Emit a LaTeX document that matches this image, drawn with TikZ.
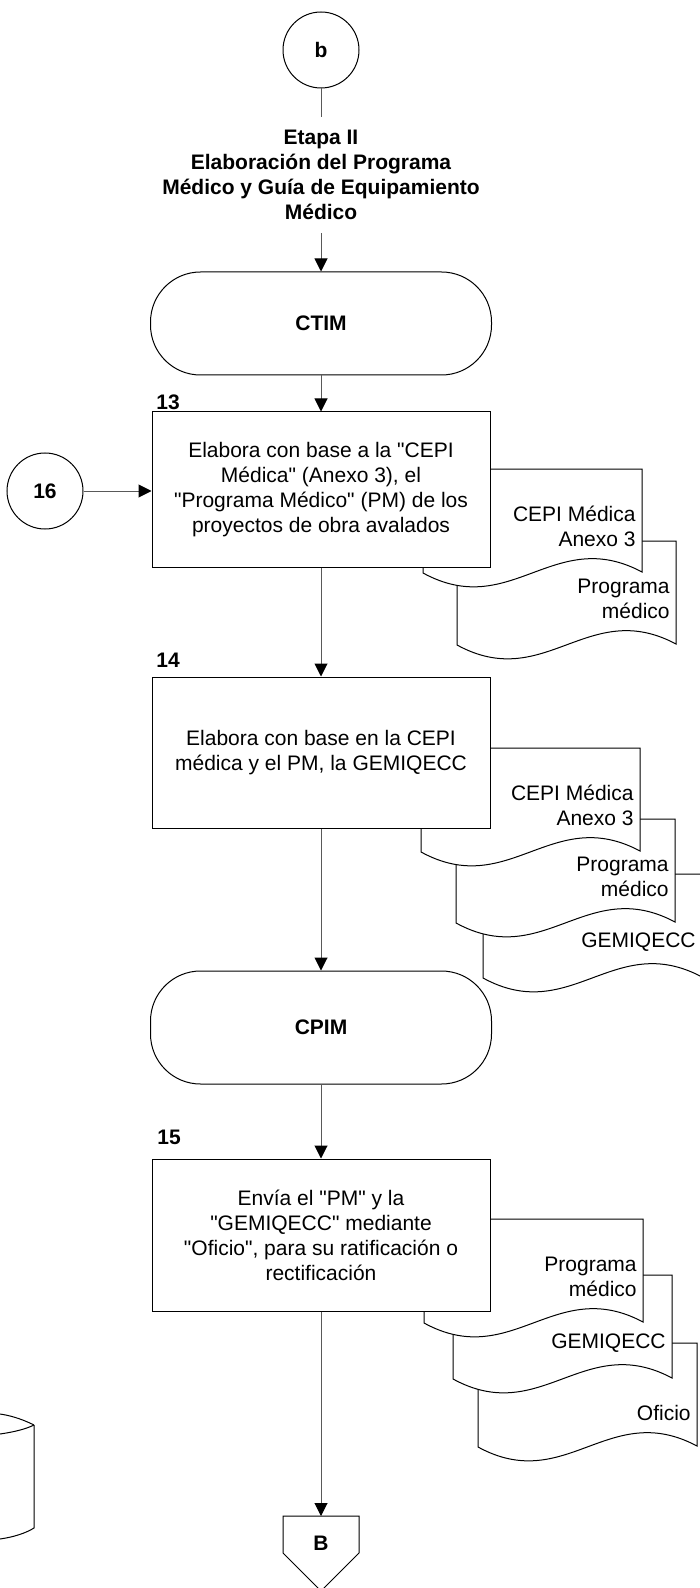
\documentclass[tikz,border=0pt]{standalone}
\usepackage{fontspec}
\setmainfont{Liberation Sans}[Ligatures=TeXOff]
\usetikzlibrary{arrows.meta}

% document sheet: left, top, name, text
\newcommand{\docpage}[4]{%
  \draw[doc] (#1,#2) -- (#1+219,#2) -- (#1+219,#2+103)
    .. controls (#1+131,#2+56) and (#1+88,#2+152) .. (#1,#2+104) -- cycle;
  \node[doctext] (#3) at (#1+213,#2+78) {#4};
}

\begin{document}
\begin{tikzpicture}[
  x=0.5pt, y=-0.5pt,
  every node/.style={font=\fontsize{10.5}{12.5}\selectfont, align=center},
  conn/.style={
    circle, draw, line width=0.5pt, fill=white,
    minimum size=38pt, inner sep=0pt,
    font=\fontsize{10.5}{12.5}\selectfont\bfseries
  },
  title/.style={inner sep=6.5pt, font=\fontsize{10.5}{12.5}\selectfont\bfseries},
  term/.style={
    rectangle, rounded corners=25pt,
    draw, line width=0.5pt, fill=white,
    minimum width=170.5pt,
    font=\fontsize{10.5}{12.5}\selectfont\bfseries
  },
  task/.style={
    rectangle, draw, line width=0.5pt, fill=white,
    minimum width=169pt, minimum height=76pt
  },
  num/.style={anchor=west, inner sep=0pt, font=\fontsize{10.5}{12.5}\selectfont\bfseries},
  doc/.style={draw, fill=white, line width=0.5pt},
  doctext/.style={anchor=south east, align=right, inner sep=0pt},
  arrow/.style={-{Triangle[length=6.5pt, width=6.5pt, black]}, draw=black!65, line width=0.5pt},
  link/.style={draw=black!65, line width=0.5pt}
]
 \clip (0,0) rectangle (700,1588);

 % Documents behind the activities
 \docpage{457}{541}{d13b}{Programa\\médico}
 \docpage{423}{469}{d13a}{CEPI Médica\\Anexo 3}

 \docpage{483}{874}{d14c}{GEMIQECC}
 \docpage{456}{819}{d14b}{Programa\\médico}
 \docpage{421}{748}{d14a}{CEPI Médica\\Anexo 3}

 \docpage{478}{1343}{d15c}{Oficio}
 \docpage{453}{1275}{d15b}{GEMIQECC}
 \docpage{424}{1219}{d15a}{Programa\\médico}

 % Start and stage title
 \node[conn] (cb) at (321,50) {b};
 \node[title] (etapa) at (321,175)
  {Etapa II\\Elaboración del Programa\\Médico y Guía de Equipamiento\\Médico};

 \node[term, minimum height=51.5pt] (ctim) at (321,323.5) {CTIM};

 % Activities
 \node[num] (n13) at (156,402) {13};
 \node[task, minimum height=77.5pt] (a13) at (321,489.5)
  {Elabora con base a la "CEPI\\Médica" (Anexo 3), el\\"Programa Médico" (PM) de los\\proyectos de obra avalados};
 \node[conn] (c16) at (45,491) {16};

 \node[num] (n14) at (156,660) {14};
 \node[task, minimum height=75.5pt] (a14) at (321,752.5)
  {Elabora con base en la CEPI\\médica y el PM, la GEMIQECC};

 \node[term, minimum height=56.5pt] (cpim) at (321,1027.5) {CPIM};

 \node[num] (n15) at (157,1137) {15};
 \node[task] (a15) at (321,1235)
  {Envía el "PM" y la\\"GEMIQECC" mediante\\"Oficio", para su ratificación o\\rectificación};

 % Off-page connector
 \draw[doc] (283,1516) -- (359,1516) -- (359,1553) -- (321,1591) -- (283,1553) -- cycle;
 \coordinate (btop) at (321,1516);
 \node[font=\fontsize{10.5}{12.5}\selectfont\bfseries] (offb) at (321,1543) {B};

 % Partly cut shape at the left edge
 \draw[line width=0.5pt] (0,1414) .. controls (14,1416) and (26,1421) .. (34,1425);
 \draw[line width=0.5pt] (0,1434) .. controls (14,1432) and (26,1429) .. (34,1425);
 \draw[line width=0.5pt] (34,1425) -- (34,1528) .. controls (26,1533) and (14,1537) .. (0,1539);

 % Connectors
 \draw[link] (cb) -- (etapa);
 \draw[arrow] (etapa) -- (ctim);
 \draw[arrow] (ctim) -- (a13);
 \draw[arrow] (c16) -- (c16 -| a13.west);
 \draw[arrow] (a13) -- (a14);
 \draw[arrow] (a14) -- (cpim);
 \draw[arrow] (cpim) -- (a15);
 \draw[arrow] (a15) -- (btop);
\end{tikzpicture}
\end{document}
